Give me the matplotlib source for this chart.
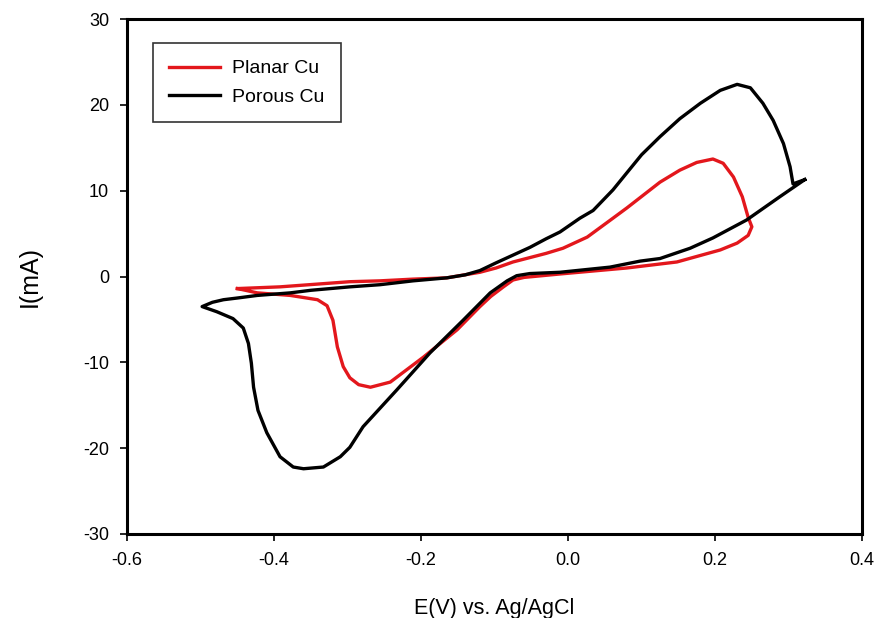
import matplotlib.pyplot as plt

plt.rcParams['font.family'] = ['Liberation Sans', 'DejaVu Sans']
plt.rcParams['axes.unicode_minus'] = False

# Porous Cu loop (E in V, I in mA), traced around the cycle
porous_E = [0.322, 0.306, 0.302, 0.293, 0.279, 0.265, 0.248, 0.23, 0.207, 0.18,
            0.152, 0.125, 0.10, 0.08, 0.061, 0.034, 0.016, -0.011, -0.03, -0.052,
            -0.075, -0.098, -0.12, -0.14, -0.165, -0.211, -0.256, -0.297, -0.35, -0.378,
            -0.423, -0.45, -0.469, -0.484, -0.498,
            -0.478, -0.456, -0.442, -0.435, -0.431, -0.428, -0.422, -0.41, -0.392, -0.374,
            -0.36, -0.333, -0.31, -0.297, -0.279, -0.233, -0.188, -0.143, -0.106, -0.083,
            -0.07, -0.052, -0.011, 0.057, 0.098, 0.125, 0.166, 0.197, 0.243, 0.288,
            0.322]
porous_I = [11.3, 10.8, 12.8, 15.5, 18.2, 20.2, 22.0, 22.4, 21.7, 20.2,
            18.4, 16.3, 14.2, 12.1, 10.1, 7.7, 6.8, 5.2, 4.4, 3.4,
            2.5, 1.6, 0.7, 0.2, -0.15, -0.5, -0.95, -1.2, -1.6, -1.9,
            -2.2, -2.5, -2.7, -3.0, -3.5,
            -4.1, -4.9, -6.0, -7.8, -10.1, -12.9, -15.6, -18.2, -21.0, -22.2,
            -22.4, -22.2, -21.0, -19.9, -17.5, -13.2, -8.9, -5.1, -1.9, -0.5,
            0.1, 0.35, 0.5, 1.1, 1.8, 2.1, 3.3, 4.5, 6.6, 9.3,
            11.3]

# Planar Cu loop
planar_E = [-0.45, -0.392, -0.297, -0.256, -0.211, -0.165, -0.12, -0.098, -0.075, -0.03,
            -0.007, 0.026, 0.061, 0.08, 0.098, 0.125, 0.152, 0.175, 0.197, 0.211,
            0.225, 0.237, 0.245, 0.25, 0.245, 0.23, 0.207, 0.148, 0.08, -0.011,
            -0.06, -0.075, -0.088, -0.105, -0.12, -0.151, -0.197, -0.242, -0.269, -0.285,
            -0.297, -0.306, -0.314, -0.32, -0.328, -0.341, -0.378, -0.423, -0.45]
planar_I = [-1.4, -1.2, -0.6, -0.5, -0.3, -0.15, 0.5, 1.0, 1.7, 2.7,
            3.3, 4.6, 6.8, 8.0, 9.2, 11.0, 12.4, 13.3, 13.7, 13.2,
            11.6, 9.3, 6.9, 5.8, 4.8, 3.9, 3.1, 1.7, 1.0, 0.3,
            -0.1, -0.4, -1.2, -2.3, -3.5, -6.2, -9.4, -12.3, -12.9, -12.6,
            -11.8, -10.5, -8.2, -5.1, -3.4, -2.7, -2.2, -1.9, -1.4]

x_ticks = [-0.6, -0.4, -0.2, 0.0, 0.2, 0.4]
y_ticks = [-30, -20, -10, 0, 10, 20, 30]

fig = plt.figure(figsize=(8.77, 6.18), dpi=100)
ax = fig.add_axes([0.145, 0.136, 0.838, 0.833])

ax.plot(planar_E, planar_I, color='#e3171c', linewidth=2.4, label='Planar Cu',
        solid_joinstyle='round')
ax.plot(porous_E, porous_I, color='black', linewidth=2.4, label='Porous Cu',
        solid_joinstyle='round')

ax.set_xlim(-0.6, 0.4)
ax.set_ylim(-30, 30)
ax.set_xticks(x_ticks)
ax.set_xticklabels(['-0.6', '-0.4', '-0.2', '0.0', '0.2', '0.4'])
ax.set_yticks(y_ticks)
ax.tick_params(direction='out', length=5, width=1.2, labelsize=13, pad=8)

for s in ax.spines.values():
    s.set_linewidth(2.2)

ax.set_xlabel('E(V) vs. Ag/AgCl', fontsize=15.5, labelpad=21)
ax.set_ylabel('I(mA)', fontsize=18, labelpad=30)

leg = ax.legend(loc='upper left', bbox_to_anchor=(0.035, 0.953), fontsize=14,
                frameon=True, fancybox=False, handlelength=2.6,
                borderpad=0.85, labelspacing=0.55, handletextpad=0.6,
                borderaxespad=0)
leg.get_frame().set_edgecolor('black')
leg.get_frame().set_linewidth(1.2)

fig.savefig('out.png', dpi=100)
